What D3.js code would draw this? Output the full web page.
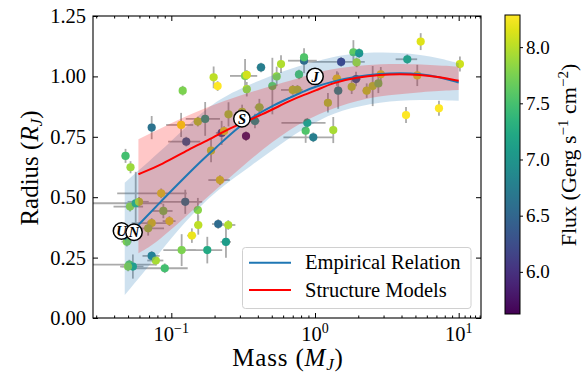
<!DOCTYPE html>
<html><head><meta charset="utf-8">
<script src="https://cdn.jsdelivr.net/npm/d3@7/dist/d3.min.js"></script>
<style>
body{margin:0;background:#fff}
text{font-family:"Liberation Serif","Times New Roman",serif;fill:#000}
</style>
</head><body>
<svg id="chart" width="587" height="373"></svg>
<script>
// Planet sample: mass (M_J), radius (R_J), incident flux (log10 erg s^-1 cm^-2), uncertainties
const mass = [0.048,0.052,0.073,0.120,0.117,0.127,0.153,0.172,0.189,0.197,0.210,0.224,0.233,0.250,0.311,0.331,0.382,0.326,0.335,0.335,0.421,0.410,0.505,0.541,0.580,0.700,0.755,0.774,0.839,0.839,0.884,0.861,0.973,1.34,1.23,1.42,1.45,1.52,1.85,2.03,1.95,1.93,1.80,2.29,2.52,2.76,2.87,4.39,5.15,5.44,4.30,7.29,10.2,0.085,0.218,0.0516,0.0565,0.0596,0.125,0.088,0.153,0.097,0.073,0.069,0.154,0.212,0.249,0.139,0.240,0.049,0.118,0.178,0.073,0.078,0.090,0.051,0.054,0.050];
const radius = [0.671,0.624,0.788,0.941,0.799,0.730,0.813,0.824,0.693,0.996,0.960,0.766,0.774,0.843,0.853,0.753,0.815,1.002,1.006,0.947,1.037,0.872,0.960,1.000,1.051,0.944,0.944,1.008,1.065,1.079,0.808,0.775,0.748,0.778,0.891,0.991,0.941,1.060,1.100,1.096,1.058,0.989,0.957,0.941,0.960,0.971,1.009,1.071,1.004,1.144,0.840,0.868,1.051,0.516,0.571,0.461,0.475,0.481,0.481,0.443,0.447,0.401,0.393,0.371,0.385,0.389,0.385,0.341,0.315,0.316,0.281,0.281,0.257,0.238,0.206,0.221,0.213,0.213];
const flux = [7.49,7.89,6.64,7.76,8.21,6.43,8.02,7.23,8.08,8.02,8.29,6.30,8.21,7.97,7.97,5.71,7.09,7.76,8.10,7.97,6.75,7.89,7.70,7.84,7.97,8.02,7.97,7.55,6.56,7.55,7.23,7.55,6.75,7.94,8.02,8.21,6.96,6.11,7.63,7.09,7.97,6.43,8.02,8.08,8.02,7.76,8.21,7.28,8.21,8.16,8.29,8.29,8.08,8.21,8.16,7.89,7.36,8.02,6.75,7.76,7.81,8.21,8.10,7.89,8.02,6.56,7.97,8.21,7.09,7.76,7.76,7.23,6.83,7.94,7.49,7.63,7.23,7.81];
const massErr = [0.003,0.003,0.004,0.005,0.025,0.032,0.01,0.046,0.01,0.01,0.01,0.02,0.01,0.01,0.02,0.02,0.03,0.07,0.02,0.02,0.03,0.03,0.03,0.03,0.03,0.12,0.05,0.05,0.19,0.05,0.3,0.05,0.37,0.05,0.05,0.1,0.1,0.7,0.1,0.1,0.1,0.15,0.1,0.15,0.15,0.15,0.15,0.75,0.2,0.2,0.2,0.3,0.3,0.043,0.037,0.012,0.03,0.01,0.039,0.014,0.01,0.01,0.02,0.02,0.01,0.02,0.03,0.01,0.02,0.004,0.03,0.048,0.01,0.01,0.04,0.028,0.01,0.005];
const radiusErr = [0.029,0.025,0.048,0.02,0.05,0.02,0.02,0.07,0.048,0.045,0.02,0.05,0.02,0.05,0.03,0.02,0.03,0.07,0.02,0.03,0.02,0.035,0.117,0.04,0.037,0.02,0.02,0.02,0.052,0.02,0.02,0.05,0.02,0.054,0.04,0.03,0.075,0.02,0.05,0.02,0.02,0.03,0.03,0.03,0.083,0.04,0.03,0.02,0.044,0.035,0.033,0.031,0.031,0.02,0.02,0.02,0.13,0.02,0.05,0.03,0.05,0.02,0.02,0.03,0.04,0.02,0.02,0.03,0.066,0.02,0.066,0.055,0.02,0.02,0.02,0.02,0.05,0.02];

// Empirical mass-radius relation and its spread
const empMass   = [0.0474,0.059,0.086,0.125,0.17,0.20,0.28,0.36,0.53,0.67,0.85,1.0,1.34,1.95,2.83,3.9,5.4,7.4,10];
const empRadius = [0.325,0.385,0.487,0.585,0.663,0.70,0.78,0.83,0.885,0.912,0.94,0.957,0.98,1.0,1.011,1.014,1.011,0.997,0.975];
const empHiMass = [0.0474,0.1,0.185,0.30,0.53,0.78,1.34,1.95,2.83,3.9,5.4,7.4,10];
const empHi     = [0.56,0.73,0.885,0.95,1.01,1.045,1.082,1.096,1.1,1.098,1.089,1.075,1.054];
const empLoMass = [0.0474,0.079,0.121,0.206,0.353,0.67,1.0,1.49,2.83,5.4,10];
const empLo     = [0.095,0.254,0.392,0.53,0.626,0.75,0.81,0.86,0.895,0.905,0.899];

// Interior structure models and their spread
const strMass   = [0.059,0.086,0.134,0.18,0.229,0.277,0.425,0.67,0.85,1.0,1.34,1.95,2.83,3.9,5.4,7.4,10];
const strRadius = [0.595,0.635,0.70,0.735,0.77,0.795,0.84,0.90,0.925,0.94,0.974,0.996,1.007,1.01,1.007,0.997,0.982];
const strHiMass = [0.059,0.106,0.18,0.31,0.53,0.85,1.14,1.95,3.3,5.4,10];
const strHi     = [0.74,0.815,0.875,0.925,0.965,1.0,1.025,1.045,1.053,1.05,1.04];
const strLoMass = [0.059,0.079,0.15,0.335,0.67,1.14,1.95,3.3,5.4,10];
const strLo     = [0.268,0.31,0.46,0.647,0.785,0.854,0.902,0.923,0.935,0.944];

// Solar-system giants
const solarName   = ["U","N","S","J"];
const solarMass   = [0.045,0.055,0.31,1.0];
const solarRadius = [0.36,0.355,0.825,1.0];

// Axis ticks
const xMajor = [0.1,1,10];
const xMajorExp = ["\u22121","0","1"];
const yTicks = [0,0.25,0.5,0.75,1.0,1.25];
const cTicks = [6.0,6.5,7.0,7.5,8.0];
const legendLabels = ["Empirical Relation","Structure Models"];

const svg = d3.select("#chart");
const L = 93, R = 481, T = 16, B = 318;
const x = d3.scaleLog().domain([0.0285,14.3]).range([L,R]);
const y = d3.scaleLinear().domain([0,1.25]).range([B,T]);
const color = d3.scaleSequential(d3.interpolateViridis).domain([5.625,8.286]);

svg.append("defs").append("clipPath").attr("id","plotclip")
  .append("rect").attr("x",L).attr("y",T).attr("width",R-L).attr("height",B-T);
const plot = svg.append("g").attr("clip-path","url(#plotclip)");

const idx = d3.range(mass.length);
// error bars
const eb = plot.append("g").attr("stroke","#aaaaaa").attr("stroke-width",1.8);
idx.forEach(i=>{
  const lo = Math.max(mass[i]-massErr[i], 0.001);
  eb.append("line").attr("x1",x(lo)).attr("x2",x(mass[i]+massErr[i]))
    .attr("y1",y(radius[i])).attr("y2",y(radius[i]));
  eb.append("line").attr("x1",x(mass[i])).attr("x2",x(mass[i]))
    .attr("y1",y(radius[i]-radiusErr[i])).attr("y2",y(radius[i]+radiusErr[i]));
});
// points
plot.append("g").selectAll("circle").data(idx).join("circle")
  .attr("cx",i=>x(mass[i])).attr("cy",i=>y(radius[i])).attr("r",4.1)
  .attr("fill",i=>color(flux[i]));

// bands and curves (smoothed through the sampled values)
const lineGen = d3.line().x(d=>x(d[0])).y(d=>y(d[1])).curve(d3.curveBasis);
function band(hm,hv,lm,lv){
  const up = hm.map((m,i)=>[m,hv[i]]);
  const dn = lm.map((m,i)=>[m,lv[i]]).reverse();
  return lineGen(up) + "L" + lineGen(dn).slice(1) + "Z";
}
plot.append("path").attr("d",band(empHiMass,empHi,empLoMass,empLo))
  .attr("fill","#1f77b4").attr("fill-opacity",0.22);
plot.append("path").attr("d",band(strHiMass,strHi,strLoMass,strLo))
  .attr("fill","#ff0000").attr("fill-opacity",0.22);
plot.append("path").attr("d",lineGen(empMass.map((m,i)=>[m,empRadius[i]])))
  .attr("fill","none").attr("stroke","#1f77b4").attr("stroke-width",2);
plot.append("path").attr("d",lineGen(strMass.map((m,i)=>[m,strRadius[i]])))
  .attr("fill","none").attr("stroke","#ff0000").attr("stroke-width",2);

// planets
const pl = plot.append("g");
solarName.forEach((n,i)=>{
  const g = pl.append("g").attr("transform",`translate(${x(solarMass[i])},${y(solarRadius[i])})`);
  g.append("circle").attr("r",8.2).attr("fill","#fff").attr("stroke","#000").attr("stroke-width",1.5);
  g.append("text").attr("text-anchor","middle").attr("dy","0.36em")
    .attr("font-size",14.5).attr("font-style","italic").attr("font-weight","bold").text(n);
});

// axes
function styleAxis(g){ g.select(".domain").remove(); g.selectAll("line").attr("stroke","#000"); }
const minor = [];
[0.01,0.1,1].forEach(d=>{ for(let k=2;k<=9;k++){ const v=d*k; if(v>=0.0285&&v<=14.3) minor.push(v);} });
minor.push(11,12,13,14);
svg.append("g").attr("transform",`translate(0,${B})`).call(d3.axisBottom(x).tickValues(xMajor).tickSize(-5).tickFormat("")).call(styleAxis);
svg.append("g").attr("transform",`translate(0,${B})`).call(d3.axisBottom(x).tickValues(minor).tickSize(-2.5).tickFormat("")).call(styleAxis);
svg.append("g").attr("transform",`translate(0,${T})`).call(d3.axisTop(x).tickValues(xMajor).tickSize(-5).tickFormat("")).call(styleAxis);
svg.append("g").attr("transform",`translate(0,${T})`).call(d3.axisTop(x).tickValues(minor).tickSize(-2.5).tickFormat("")).call(styleAxis);
const yl = svg.append("g").attr("transform",`translate(${L},0)`)
  .call(d3.axisLeft(y).tickValues(yTicks).tickSize(-5).tickPadding(7).tickFormat(d3.format(".2f"))).call(styleAxis);
yl.selectAll("text").attr("font-size",20.5).attr("font-family","Liberation Serif");
svg.append("g").attr("transform",`translate(${R},0)`).call(d3.axisRight(y).tickValues(yTicks).tickSize(-5).tickFormat("")).call(styleAxis);
svg.append("rect").attr("x",L).attr("y",T).attr("width",R-L).attr("height",B-T)
  .attr("fill","none").attr("stroke","#000").attr("stroke-width",1.1);

xMajor.forEach((v,i)=>{
  const t = svg.append("text").attr("x",x(v)).attr("y",341).attr("text-anchor","middle").attr("font-size",20.5);
  t.append("tspan").text("10");
  t.append("tspan").attr("dy",-8).attr("font-size",14).text(xMajorExp[i]);
});

// axis titles
const xt = svg.append("text").attr("x",288).attr("y",366).attr("text-anchor","middle").attr("font-size",25).attr("letter-spacing",0.8);
xt.append("tspan").text("Mass (");
xt.append("tspan").attr("font-style","italic").text("M");
xt.append("tspan").attr("font-style","italic").attr("font-size",17).attr("dy",4).text("J");
xt.append("tspan").attr("dy",-4).text(")");
const ytl = svg.append("text").attr("transform","translate(38,168) rotate(-90)").attr("text-anchor","middle").attr("font-size",25);
ytl.append("tspan").text("Radius (");
ytl.append("tspan").attr("font-style","italic").text("R");
ytl.append("tspan").attr("font-style","italic").attr("font-size",17).attr("dy",4).text("J");
ytl.append("tspan").attr("dy",-4).text(")");

// legend
const lg = svg.append("g");
lg.append("rect").attr("x",242.5).attr("y",247.5).attr("width",228.5).attr("height",61).attr("rx",3)
  .attr("fill","#fff").attr("fill-opacity",0.8).attr("stroke","#d0d0d0").attr("stroke-width",1);
[["#1f77b4",262.7],["#ff0000",290]].forEach((d,i)=>{
  lg.append("line").attr("x1",249).attr("x2",291).attr("y1",d[1]).attr("y2",d[1]).attr("stroke",d[0]).attr("stroke-width",2);
  lg.append("text").attr("x",305).attr("y",d[1]+6.5).attr("font-size",20.5).text(legendLabels[i]);
});

// colorbar
const cbX = 505, cbW = 15, cbT = 15, cbB = 314;
const cy = d3.scaleLinear().domain(color.domain()).range([cbB,cbT]);
const grad = svg.select("defs").append("linearGradient").attr("id","vir").attr("x1",0).attr("y1",1).attr("x2",0).attr("y2",0);
d3.range(0,1.0001,0.05).forEach(t=>grad.append("stop").attr("offset",t).attr("stop-color",d3.interpolateViridis(t)));
svg.append("rect").attr("x",cbX).attr("y",cbT).attr("width",cbW).attr("height",cbB-cbT).attr("fill","url(#vir)")
  .attr("stroke","#000").attr("stroke-width",1);
const ca = svg.append("g").attr("transform",`translate(${cbX+cbW},0)`)
  .call(d3.axisRight(cy).tickValues(cTicks).tickSize(3).tickPadding(3).tickFormat(d3.format(".1f"))).call(styleAxis);
ca.selectAll("text").attr("font-size",19).attr("font-family","Liberation Serif");
const ct = svg.append("text").attr("transform","translate(576,155) rotate(-90)").attr("text-anchor","middle").attr("font-size",22);
ct.append("tspan").text("Flux (Gerg s");
ct.append("tspan").attr("dy",-8).attr("font-size",15).text("\u22121");
ct.append("tspan").attr("dy",8).text(" cm");
ct.append("tspan").attr("dy",-8).attr("font-size",15).text("\u22122");
ct.append("tspan").attr("dy",8).text(")");
</script>
</body></html>
